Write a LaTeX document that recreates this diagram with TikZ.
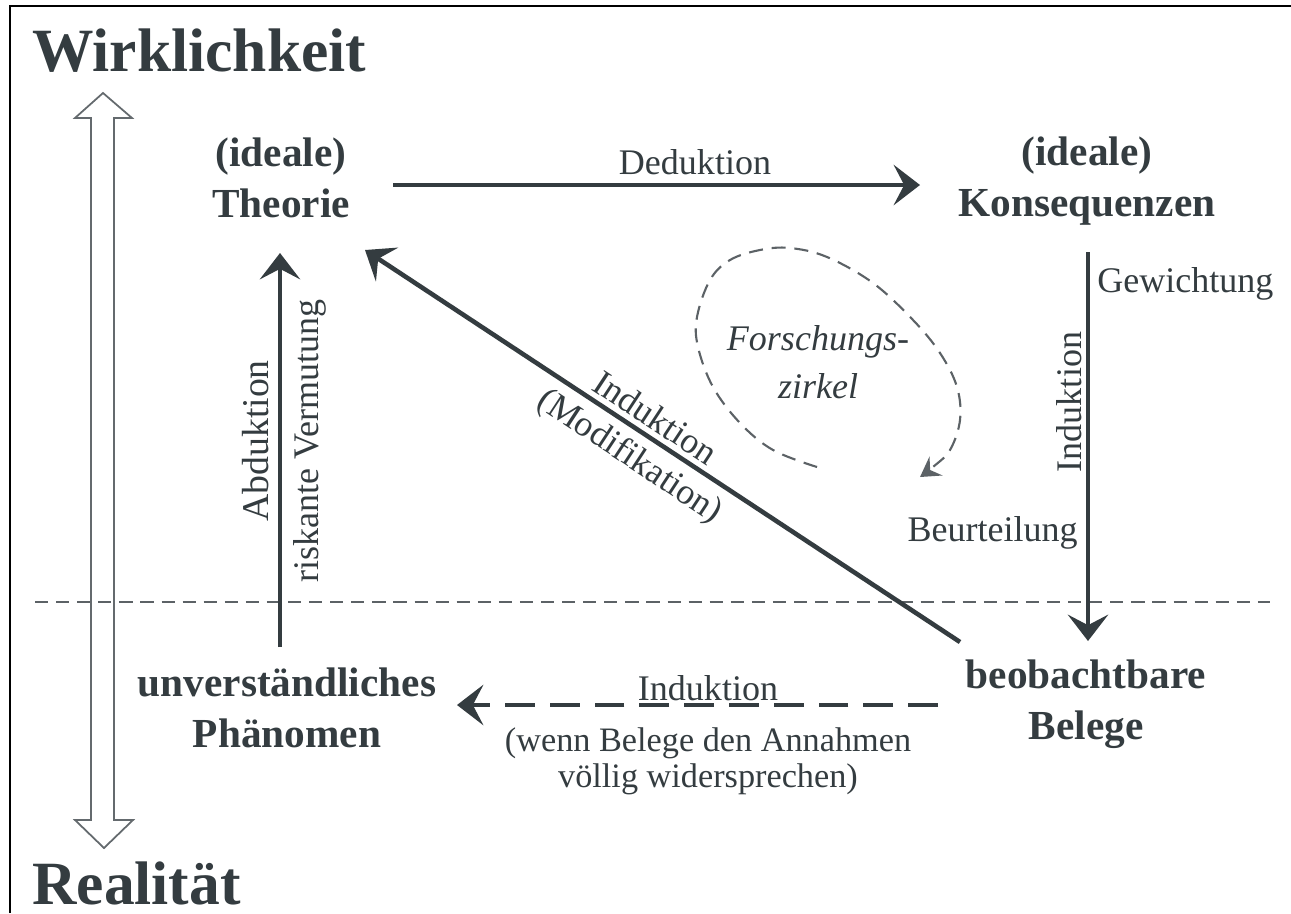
\documentclass[tikz,border=0pt]{standalone}
\usepackage{fontspec}
\setmainfont{Liberation Serif}
\usetikzlibrary{arrows.meta,calc}
\definecolor{ink}{RGB}{52,60,64}
\definecolor{hollow}{RGB}{100,106,110}
\definecolor{dashgray}{RGB}{92,98,102}
\begin{document}
\begin{tikzpicture}[x=0.02cm,y=-0.02cm,
  title/.style={font=\fontsize{35}{40}\selectfont\bfseries, text=ink, inner sep=0pt},
  concept/.style={font=\fontsize{23.5}{29}\selectfont\bfseries, text=ink, align=center, inner sep=0pt},
  lbl/.style={font=\fontsize{20.5}{21}\selectfont, text=ink, inner sep=0pt},
  arr/.style={draw=ink, line width=2.6pt, -{Stealth[length=15pt,width=23pt,inset=6pt]}},
  arrL/.style={draw=ink, line width=2.6pt, {Stealth[length=15pt,width=23pt,inset=6pt]}-},
  thindash/.style={draw=dashgray, line width=1.2pt, dash pattern=on 7.5pt off 4.5pt},
  circdash/.style={draw=dashgray, line width=1.2pt, dash pattern=on 8pt off 5pt,
     -{Stealth[length=11pt,width=13pt,inset=4pt]}}
]
\useasboundingbox (0,0) rectangle (1291,913);
\fill[white] (0,0) rectangle (1291,913);
\draw[line width=1.2pt, black] (10,913) -- (10,6) -- (1291,6);

% titles
\node[title, anchor=base west] (wirk) at (32,71) {Wirklichkeit};
\node[title, anchor=base west] (real) at (32,904) {Realität};

% hollow double arrow
\draw[hollow, line width=1pt, line join=miter]
  (103,93) -- (132,118) -- (114,118) -- (114,820) -- (133,820) -- (104,848)
  -- (75,820) -- (91,820) -- (91,118) -- (75,118) -- cycle;

% separating dashed line
\draw[thindash] (35,602) -- (1270,602);

% concepts
\node[concept] (T) at (281,178) {(ideale)\\Theorie};
\node[concept] (K) at (1087,181) {(ideale)\\Konsequenzen};
\node[concept] (U) at (287,708) {unverständliches\\Phänomen};
\node[concept] (B) at (1086,704) {beobachtbare\\Belege};

% connector end points
\coordinate (T-out) at (393,185);
\coordinate (K-in) at (920,185);
\coordinate (K-out) at (1088,252);
\coordinate (B-in) at (1088,641);
\coordinate (U-out) at (280,647);
\coordinate (T-in) at (280,253);
\coordinate (T-diag) at (365,250);
\coordinate (B-diag) at (960,642);
\coordinate (B-left) at (938,705);
\coordinate (U-in) at (457,705);

% Deduktion
\draw[arr] (T-out) -- (K-in);
\node[lbl, anchor=base] (ded) at (695,174) {Deduktion};

% Induktion (right)
\draw[arr] (K-out) -- (B-in);
\node[lbl, rotate=90, anchor=base] (indR) at (1081,402) {Induktion};
\node[lbl, anchor=base west] (gew) at (1097,292) {Gewichtung};
\node[lbl, anchor=base east] (beur) at (1078,541) {Beurteilung};

% Abduktion
\draw[arr] (U-out) -- (T-in);
\node[lbl, rotate=90, anchor=base, font=\fontsize{21.5}{22}\selectfont] (abd) at (268,441) {Abduktion};
\node[lbl, rotate=90, anchor=base] (risk) at (318,441) {riskante Vermutung};

% diagonal Induktion (Modifikation)
\draw[arrL] (T-diag) -- node[lbl, sloped, pos=0.47, above=3pt] (indD) {Induktion}
                     node[lbl, sloped, pos=0.47, below=5pt] (modD) {(Modifikation)} (B-diag);

% bottom dashed Induktion
\draw[arr, dash pattern=on 17pt off 8.5pt] (B-left) -- (U-in);
\node[lbl, anchor=base] (indB) at (708,700) {Induktion};
\node[lbl, align=center, font=\fontsize{19.5}{20.5}\selectfont] (wenn) at (708,761)
  {(wenn Belege den Annahmen\\völlig widersprechen)};

% Forschungszirkel
\node[lbl, align=center, font=\fontsize{20.5}{27.3}\selectfont\itshape] (fz) at (818,362) {Forschungs-\\zirkel};
\draw[circdash] plot[smooth, tension=0.6] coordinates {(817,467) (773,450) (740,423) (713,387)
  (698,347) (697,317) (710,280) (730,260) (760,250) (790,248) (827,257) (873,283) (913,320)
  (940,353) (957,387) (960,420) (950,450) (933,467) (920,477)};
\end{tikzpicture}
\end{document}
